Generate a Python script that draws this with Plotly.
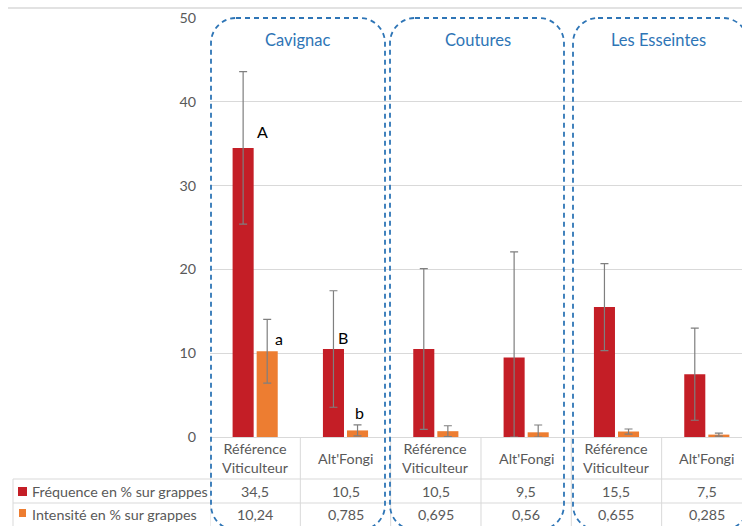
import plotly.graph_objects as go

# ---- data -------------------------------------------------------------
sites = ["Cavignac", "Coutures", "Les Esseintes"]
categories = ["Référence Viticulteur", "Alt'Fongi",
              "Référence Viticulteur", "Alt'Fongi",
              "Référence Viticulteur", "Alt'Fongi"]
series_names = ["Fréquence en % sur grappes", "Intensité en % sur grappes"]
frequence = [34.5, 10.5, 10.5, 9.5, 15.5, 7.5]
intensite = [10.24, 0.785, 0.695, 0.56, 0.655, 0.285]
frequence_err = [9.1, 6.95, 9.6, 12.6, 5.2, 5.5]
intensite_err = [3.8, 0.65, 0.65, 0.87, 0.3, 0.17]
frequence_letters = ["A", "B", "", "", "", ""]
intensite_letters = ["a", "b", "", "", "", ""]
y_ticks = [0, 10, 20, 30, 40, 50]

# ---- styling ----------------------------------------------------------
W, H = 742, 526
PL, PR, PT, PB = 210, 742, 18, 437          # plot area in pixels
RED, ORANGE = "#C41E26", "#ED7D31"
BLUE = "#2E75B6"
GREY_TXT = "#595959"
GRID = "#D9D9D9"
FONT = "Lato"
FS = 14.3


def px(x):
    return (x - PL) / (PR - PL)


def py(y):
    return (PB - y) / (PB - PT)


def fmt(v):
    return str(v).replace(".", ",")


def label(x, y, text, xref="paper", xanchor="center", size=FS, color=GREY_TXT):
    return dict(x=x, y=y, xref=xref, yref="paper", text=text, showarrow=False,
                xanchor=xanchor, yanchor="middle",
                font=dict(family=FONT, size=size, color=color))


xs = list(range(len(categories)))

fig = go.Figure()
for vals, errs, name, col in [(frequence, frequence_err, series_names[0], RED),
                              (intensite, intensite_err, series_names[1], ORANGE)]:
    fig.add_trace(go.Bar(
        x=xs, y=vals, name=name, marker=dict(color=col, line=dict(width=0)),
        error_y=dict(type="data", array=errs,
                     arrayminus=[min(e, v) for e, v in zip(errs, vals)],
                     color="#7F7F7F", thickness=1.2, width=4),
    ))

annotations = []
shapes = []

# significance letters next to the bars
letter_offsets = {("f", 0): (0.21, 1.9), ("f", 1): (0.11, 1.4),
                  ("i", 0): (0.13, 1.5), ("i", 1): (0.02, 2.1)}
for kind, letters, vals, shift in [("f", frequence_letters, frequence, -0.1333),
                                   ("i", intensite_letters, intensite, 0.1333)]:
    for i, (lt, v) in enumerate(zip(letters, vals)):
        if lt:
            dx, dy = letter_offsets[(kind, i)]
            annotations.append(dict(x=i + shift + dx, y=v + dy, xref="x", yref="y",
                                    text=lt, showarrow=False,
                                    xanchor="center", yanchor="middle",
                                    font=dict(family=FONT, size=16, color="#000000")))

# top border of the chart area
shapes.append(dict(type="line", xref="paper", yref="paper",
                   x0=px(8), x1=px(742), y0=py(8), y1=py(8),
                   line=dict(color=GRID, width=1.5)))

# data table grid
for yy in (479, 503):
    shapes.append(dict(type="line", xref="paper", yref="paper",
                       x0=px(13), x1=px(742), y0=py(yy), y1=py(yy),
                       line=dict(color=GRID, width=1)))
shapes.append(dict(type="line", xref="paper", yref="paper",
                   x0=px(13), x1=px(13), y0=py(479), y1=py(526),
                   line=dict(color=GRID, width=1)))
for i in range(len(categories)):
    shapes.append(dict(type="line", xref="x", yref="paper",
                       x0=i - 0.5, x1=i - 0.5, y0=py(437), y1=py(526),
                       line=dict(color=GRID, width=1)))

# table contents
for i, cat in enumerate(categories):
    annotations.append(label(i, py(458), cat.replace(" ", "<br>"), xref="x"))
    annotations.append(label(i, py(491), fmt(frequence[i]), xref="x"))
    annotations.append(label(i, py(514.5), fmt(intensite[i]), xref="x"))

# series names with colour keys
for name, col, yc, key in [(series_names[0], RED, 491, (18, 27, 487, 496)),
                           (series_names[1], ORANGE, 514.5, (19, 26, 509, 517))]:
    shapes.append(dict(type="rect", xref="paper", yref="paper",
                       x0=px(key[0]), x1=px(key[1]), y0=py(key[3]), y1=py(key[2]),
                       fillcolor=col, line=dict(width=0)))
    annotations.append(label(px(30), py(yc), name, xanchor="left"))


# dashed rounded frames around each site
def rounded_box(x0, x1, y0, y1, r):
    k = 0.5523 * r
    pts = [
        ("M", [(x0 + r, y0)]),
        ("L", [(x1 - r, y0)]),
        ("C", [(x1 - r + k, y0), (x1, y0 + r - k), (x1, y0 + r)]),
        ("L", [(x1, y1 - r)]),
        ("C", [(x1, y1 - r + k), (x1 - r + k, y1), (x1 - r, y1)]),
        ("L", [(x0 + r, y1)]),
        ("C", [(x0 + r - k, y1), (x0, y1 - r + k), (x0, y1 - r)]),
        ("L", [(x0, y0 + r)]),
        ("C", [(x0, y0 + r - k), (x0 + r - k, y0), (x0 + r, y0)]),
    ]
    out = []
    for cmd, ps in pts:
        out.append(cmd + " ".join(f"{px(a):.5f},{py(b):.5f}" for a, b in ps))
    return " ".join(out) + " Z"


frames = [(211, 385), (390, 564), (573, 748)]
for fx0, fx1 in frames:
    shapes.append(dict(type="path", xref="paper", yref="paper",
                       path=rounded_box(fx0, fx1, 18, 530, 25),
                       line=dict(color=BLUE, width=1.8, dash="5px,4px")))
title_x = [298, 478, 658]
for site, tx in zip(sites, title_x):
    annotations.append(label(px(tx), py(39.5), site, size=16.5, color=BLUE))

fig.update_layout(
    width=W, height=H,
    margin=dict(l=PL, r=W - PR, t=PT, b=H - PB, pad=0),
    paper_bgcolor="white", plot_bgcolor="white",
    showlegend=False,
    barmode="group", bargap=0.467, bargroupgap=0.125,
    xaxis=dict(range=[-0.5, -0.5 + (PR - PL) / 90.33], showticklabels=False,
               showgrid=False, zeroline=False, showline=True,
               linecolor=GRID, linewidth=1, ticks=""),
    yaxis=dict(range=[0, 50], tickvals=y_ticks, showgrid=True, gridcolor=GRID,
               gridwidth=1, zeroline=False, showline=False, ticks="",
               ticklabelstandoff=13,
               tickfont=dict(family=FONT, size=FS, color=GREY_TXT)),
    shapes=shapes, annotations=annotations,
)

fig.write_html("out.html")
